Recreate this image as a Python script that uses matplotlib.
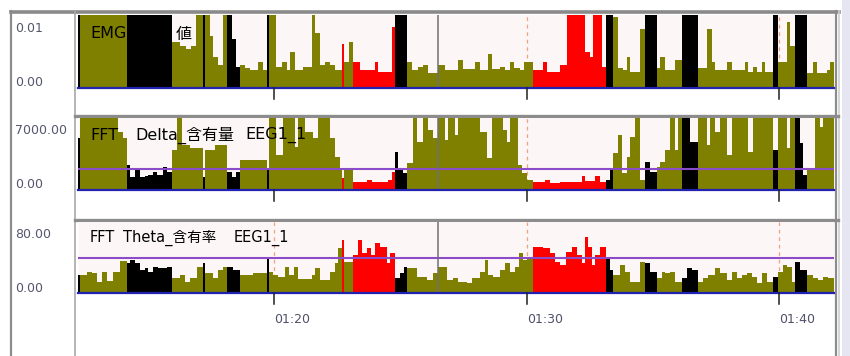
import numpy as np
import matplotlib
matplotlib.use("Agg")
import matplotlib.pyplot as plt
import matplotlib.transforms as mtransforms

FONT = ['DejaVu Sans', 'Noto Sans CJK JP']
plt.rcParams['font.family'] = FONT

W, H = 850, 356

# --- データ (秒, 記録開始からの経過) ---
start_clock = "01:12:14"
span_sec = 1796
tick_clocks = ["01:20", "01:30", "01:40"]
cursor_clock = "01:26:30"

# ステージ: W=覚醒(黒), NR=ノンレム(オリーブ), R=レム(赤)
stage_edges = [0, 5, 116, 223, 297, 302, 354, 385, 449, 454, 627, 632, 653, 753, 782,
               1081, 1255, 1271, 1347, 1376, 1435, 1473, 1651, 1663, 1704, 1732, 1796]
stage_codes = ['W', 'NR', 'W', 'NR', 'W', 'NR', 'W', 'NR', 'W', 'NR', 'R', 'NR', 'R',
               'W', 'NR', 'R', 'W', 'NR', 'W', 'NR', 'W', 'NR', 'W', 'NR', 'W', 'NR']
stage_colors = {'W': '#000000', 'NR': '#808000', 'R': '#ff0000'}

emg_edges = [0, 5, 116, 223, 242, 257, 269, 280, 297, 302, 314, 321, 333, 345, 354, 366,
             375, 385, 397, 409, 421, 428, 440, 449, 454, 470, 485, 497, 504, 516, 535,
             556, 563, 575, 587, 599, 611, 627, 632, 644, 653, 670, 706, 713, 746, 753,
             782, 794, 808, 820, 832, 855, 872, 903, 915, 943, 955, 974, 984, 1003, 1015,
             1026, 1036, 1050, 1060, 1081, 1105, 1114, 1145, 1162, 1205, 1217, 1224, 1245,
             1255, 1271, 1283, 1295, 1304, 1312, 1335, 1347, 1376, 1383, 1395, 1419, 1435,
             1473, 1495, 1506, 1514, 1542, 1554, 1585, 1592, 1604, 1613, 1625, 1632, 1651,
             1663, 1685, 1692, 1704, 1732, 1746, 1756, 1780, 1787, 1796]
emg_vals = [0.0125, 0.0125, 0.0125, 0.0063, 0.0057, 0.0053, 0.0057, 0.0125, 0.0125,
            0.0125, 0.0071, 0.0042, 0.0032, 0.0125, 0.0125, 0.0067, 0.0029, 0.0032,
            0.0028, 0.0025, 0.0024, 0.0035, 0.0024, 0.0125, 0.0125, 0.0029, 0.0036,
            0.0025, 0.0049, 0.0025, 0.0029, 0.0100, 0.0076, 0.0032, 0.0035, 0.0032,
            0.0025, 0.0060, 0.0036, 0.0063, 0.0035, 0.0024, 0.0035, 0.0022, 0.0083,
            0.0125, 0.0035, 0.0025, 0.0029, 0.0032, 0.0021, 0.0032, 0.0024, 0.0039,
            0.0026, 0.0036, 0.0025, 0.0046, 0.0026, 0.0029, 0.0025, 0.0036, 0.0028,
            0.0025, 0.0035, 0.0025, 0.0035, 0.0022, 0.0032, 0.0125, 0.0050, 0.0042,
            0.0125, 0.0029, 0.0125, 0.0097, 0.0028, 0.0025, 0.0043, 0.0022, 0.0081,
            0.0125, 0.0028, 0.0043, 0.0025, 0.0039, 0.0125, 0.0028, 0.0081, 0.0035,
            0.0025, 0.0036, 0.0025, 0.0036, 0.0022, 0.0029, 0.0022, 0.0035, 0.0022,
            0.0125, 0.0035, 0.0090, 0.0057, 0.0125, 0.0021, 0.0035, 0.0021, 0.0025,
            0.0035]

delta_edges = [0, 5, 95, 107, 116, 124, 135, 147, 159, 166, 178, 188, 202, 211, 223, 235,
               247, 266, 297, 302, 326, 354, 366, 375, 385, 449, 454, 470, 487, 516, 523,
               539, 558, 570, 599, 611, 623, 627, 632, 653, 687, 698, 736, 746, 753, 760,
               772, 782, 796, 806, 820, 832, 844, 855, 872, 879, 896, 903, 955, 972, 984,
               1010, 1019, 1026, 1045, 1055, 1067, 1081, 1110, 1121, 1145, 1197, 1205,
               1228, 1240, 1255, 1264, 1271, 1283, 1293, 1304, 1312, 1323, 1335, 1347,
               1359, 1376, 1383, 1395, 1407, 1419, 1426, 1435, 1454, 1473, 1495, 1502,
               1514, 1525, 1542, 1554, 1592, 1604, 1651, 1663, 1685, 1692, 1704, 1716,
               1723, 1732, 1751, 1763, 1770, 1796]
delta_vals = [5050, 7600, 5650, 5050, 2450, 1250, 1950, 1250, 1350, 1450, 1750, 1450,
              2250, 1750, 3900, 7600, 4350, 4100, 1250, 3900, 4350, 1750, 1250, 1750,
              2900, 2150, 7600, 3400, 7600, 4200, 7600, 5650, 5050, 7600, 5050, 3200,
              2150, 1150, 2150, 800, 950, 800, 950, 1750, 3700, 2150, 1650, 2600, 7600,
              4650, 7600, 5850, 5050, 7600, 4850, 7600, 5350, 7600, 5650, 3100, 7600,
              5850, 4650, 7600, 2450, 1650, 950, 800, 950, 700, 800, 1350, 850, 1350,
              800, 950, 2150, 3600, 5350, 1650, 3200, 5150, 7600, 950, 2700, 1750, 2250,
              2700, 3900, 7600, 3900, 7600, 7600, 4650, 7600, 4350, 7600, 5650, 7600,
              3400, 7600, 3700, 7600, 3900, 7600, 4100, 7600, 7600, 4550, 1450, 2150,
              7600, 6100, 7600]
delta_thr = 2000

theta_edges = [0, 5, 21, 33, 45, 57, 69, 83, 100, 116, 124, 135, 147, 159, 166, 178, 190,
               211, 223, 242, 254, 266, 283, 297, 302, 321, 333, 345, 354, 368, 385, 416,
               449, 454, 463, 475, 492, 501, 513, 523, 556, 563, 575, 599, 611, 618, 627,
               632, 653, 665, 675, 687, 696, 706, 718, 734, 741, 753, 765, 775, 782, 806,
               829, 844, 855, 877, 891, 903, 924, 936, 955, 967, 974, 986, 1003, 1015,
               1026, 1038, 1048, 1057, 1067, 1081, 1105, 1121, 1133, 1145, 1160, 1174,
               1186, 1198, 1205, 1212, 1221, 1228, 1240, 1255, 1264, 1271, 1288, 1300,
               1312, 1335, 1347, 1359, 1376, 1388, 1395, 1407, 1419, 1435, 1447, 1459,
               1473, 1485, 1497, 1514, 1525, 1542, 1554, 1566, 1578, 1590, 1601, 1613,
               1625, 1637, 1651, 1663, 1675, 1685, 1697, 1704, 1716, 1732, 1746, 1758,
               1770, 1782, 1796]
theta_vals = [20.3, 20.3, 24.0, 22.2, 12.8, 24.0, 13.9, 24.0, 36.4, 33.4, 37.2, 33.4,
              25.9, 27.8, 24.0, 29.7, 27.8, 29.7, 16.5, 20.3, 12.8, 16.5, 29.7, 33.4,
              22.2, 16.5, 25.9, 29.7, 29.7, 25.9, 20.3, 22.2, 39.1, 24.0, 20.3, 18.4,
              29.7, 20.3, 29.7, 15.8, 20.3, 27.8, 14.7, 24.0, 33.4, 50.3, 59.7, 35.3,
              42.8, 59.7, 44.7, 50.3, 42.8, 56.0, 52.2, 33.4, 44.7, 16.5, 22.2, 29.7,
              27.8, 18.4, 14.7, 22.2, 29.7, 14.7, 16.5, 12.8, 10.9, 16.5, 24.0, 37.2,
              20.3, 18.4, 25.9, 33.4, 24.0, 29.7, 44.7, 37.2, 39.1, 52.2, 50.3, 44.7,
              35.3, 31.6, 46.6, 52.2, 42.8, 33.4, 63.5, 52.2, 31.6, 42.8, 52.2, 39.1,
              25.9, 20.3, 31.6, 24.0, 12.8, 35.3, 33.4, 24.0, 16.5, 24.0, 22.2, 24.0,
              12.8, 16.5, 27.8, 25.9, 12.8, 16.5, 20.3, 27.8, 22.2, 14.7, 24.0, 16.5,
              20.3, 22.2, 18.4, 10.9, 22.2, 12.8, 18.4, 24.0, 31.6, 29.7, 12.8, 35.3,
              25.9, 20.3, 16.5, 14.7, 18.4, 16.5]
theta_thr = 40


def clock_to_sec(s):
    parts = [int(p) for p in s.split(":")]
    if len(parts) == 2:
        parts.append(0)
    return parts[0] * 3600 + parts[1] * 60 + parts[2]


t0 = clock_to_sec(start_clock)
tick_pos = [clock_to_sec(c) - t0 for c in tick_clocks]
cursor_pos = clock_to_sec(cursor_clock) - t0


def px_rect(l, t, r, b):
    return [l / W, 1 - b / H, (r - l) / W, (b - t) / H]


fig = plt.figure(figsize=(W / 100, H / 100), dpi=100)
fig.patch.set_facecolor('white')

# 枠 (ウィンドウ) を描く背景軸
bg = fig.add_axes([0, 0, 1, 1])
bg.set_zorder(-1)
bg.set_xlim(0, W)
bg.set_ylim(H, 0)
bg.axis('off')
bg.add_patch(plt.Rectangle((842, 0), 8, H, color='#e6e6f2', lw=0))
bg.plot([11, 11], [11, H], color='#8c8c8c', lw=1.6)
bg.plot([11, 839], [12, 12], color='#8a8a8a', lw=2.6)
bg.plot([836.5, 836.5], [11, H], color='#8c8c8c', lw=1.6)
bg.plot([839.5, 839.5], [11, H], color='#cfcfcf', lw=1.2)
bg.plot([75.5, 75.5], [11, H], color='#a8a8a8', lw=1.2)
for y in (116, 219.5):
    bg.plot([75, 838], [y, y], color='#8c8c8c', lw=2.4)

panels = [
    dict(edges=emg_edges, vals=emg_vals, ymax=0.01, thr=None, rect=(78, 15, 834, 88),
         label=[("EMG", 90), ("積分", 133), ("値", 176)], fs=11.5, ly=34),
    dict(edges=delta_edges, vals=delta_vals, ymax=7000, thr=delta_thr, rect=(78, 118, 834, 190),
         label=[("FFT", 90), ("Delta_含有量", 135), ("EEG1_1", 245)], fs=11.5, ly=135),
    dict(edges=theta_edges, vals=theta_vals, ymax=80, thr=theta_thr, rect=(78, 222, 834, 293),
         label=[("FFT", 90), ("Theta_含有率", 123), ("EEG1_1", 234)], fs=10.5, ly=238),
]

axes = []
for p in panels:
    ax = fig.add_axes(px_rect(*p['rect']))
    ax.set_facecolor('#fdf6f6')
    ax.set_xlim(0, span_sec)
    ax.set_ylim(0, p['ymax'])
    for s in ax.spines.values():
        s.set_visible(False)
    ax.set_xticks([])
    ax.set_yticks([])

    edges = np.asarray(p['edges'], float)
    vals = np.asarray(p['vals'], float)
    cuts = np.union1d(edges, stage_edges)
    left = cuts[:-1]
    width = np.diff(cuts)
    mid = left + width / 2
    h = vals[np.searchsorted(edges, mid) - 1]
    st = np.searchsorted(stage_edges, mid) - 1
    cols = [stage_colors[stage_codes[i]] for i in st]

    for t in tick_pos:
        ax.axvline(t, color='#f2a283', lw=0.9, ls=(0, (3, 3)), zorder=1)
    ax.bar(left, h, width=width, align='edge', color=cols, linewidth=0,
           antialiased=False, zorder=2)
    if p['thr'] is not None:
        ax.axhline(p['thr'], color='#8a4cc8', lw=1.5, zorder=3)
    ax.axvline(cursor_pos, color='#707078', lw=1.1, zorder=3)
    ax.axhline(0, color='#2222b0', lw=1.6, zorder=4, clip_on=False)

    trans = mtransforms.blended_transform_factory(ax.transData, ax.transAxes)
    for t in tick_pos:
        ax.plot([t, t], [0, -0.15], color='#202020', lw=1.1, transform=trans,
                clip_on=False, zorder=4)

    # 値ラベル (左列)
    l, t, r, b = p['rect']
    fig.text(15 / W, 1 - (t + 13) / H, f"{p['ymax']:.2f}", fontsize=9,
             color='#55556e', va='center', ha='left')
    fig.text(15 / W, 1 - (b - 5) / H, f"{0:.2f}", fontsize=9,
             color='#55556e', va='center', ha='left')
    # パネル名
    for txt, x in p['label']:
        fig.text(x / W, 1 - p['ly'] / H, txt, fontsize=p['fs'], color='#000000',
                 va='center', ha='left')
    axes.append(ax)

# 時刻ラベル
ax3 = axes[-1]
trans3 = mtransforms.blended_transform_factory(ax3.transData, ax3.transAxes)
for t, lab in zip(tick_pos, tick_clocks):
    ax3.text(t, -0.37, lab, transform=trans3, fontsize=9, color='#50506a',
             ha='left', va='center')

fig.savefig('out.png', dpi=100)
